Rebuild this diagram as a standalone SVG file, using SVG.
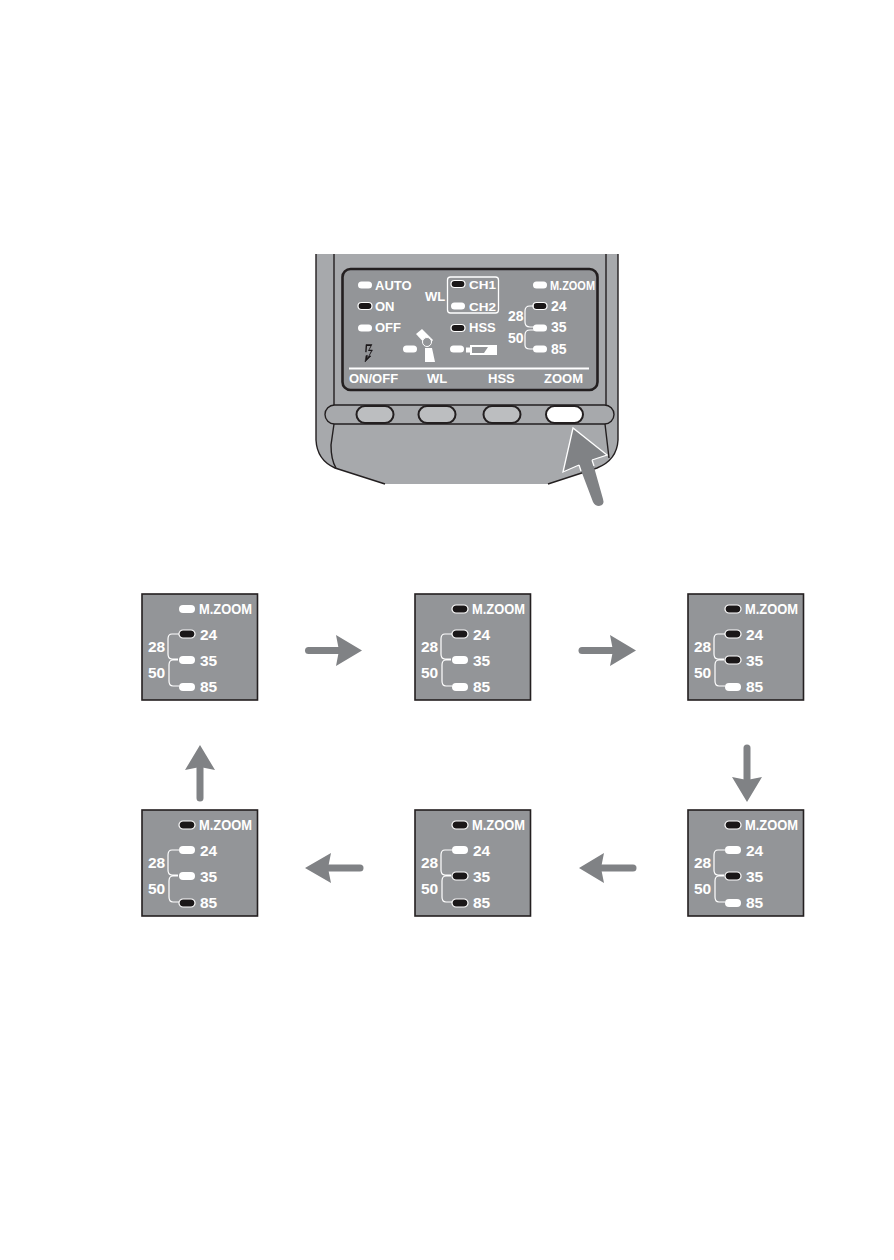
<svg xmlns="http://www.w3.org/2000/svg" width="894" height="1260" viewBox="0 0 894 1260">
<style>
text{font-family:"Liberation Sans",Arial,sans-serif;font-weight:700;fill:#fff}
.l{font-size:13px}.p{font-size:15.500px}.d{font-size:14px}
.on{fill:#1a1718;stroke:#fff;stroke-width:1.2}
.off{fill:#fff;stroke:none}
.br{fill:none;stroke:#fff;stroke-width:1.2}
.ar{fill:#808285}
.as{fill:none;stroke:#808285;stroke-width:7;stroke-linecap:round}
.pn{fill:#939598;stroke:#231f20;stroke-width:1.6}
.k{fill:none;stroke:#231f20;stroke-width:1.4}
.btn{fill:#bcbec0;stroke:#231f20;stroke-width:2}
</style>
<defs>
<rect id="led" x="-8" y="-4" width="16" height="8" rx="4"/>
<rect id="sled" x="-7" y="-3.500" width="14" height="7" rx="3.500"/>
<g id="pbase">
<rect class="pn" x="0" y="0" width="115.500" height="106"/>
<text class="p" x="57" y="20" textLength="53" lengthAdjust="spacingAndGlyphs">M.ZOOM</text>
<text class="p" x="58" y="46">24</text>
<text class="p" x="58" y="72">35</text>
<text class="p" x="58" y="98">85</text>
<text class="p" x="6" y="58">28</text>
<text class="p" x="6" y="84">50</text>
<path class="br" d="M37 40H30Q26 40 26 45V60Q26 65 30 65H36M36 66H31Q27 66 27 71V87Q27 92 31 92H37"/>
</g>
</defs>

<g id="device">
<path d="M316 254H618V440Q617 460 597 468L548 484H385L335 468Q317 460 316 440Z" fill="#a7a9ac"/>
<path class="k" d="M316 254V440Q317 460 335 468L385 484M618 254V440Q617 460 597 468L548 484"/>
<path class="k" d="M334 254V405M334 424L331 445Q331 460 336 468M606 254V405M605 424L609 458"/>
<rect x="342.500" y="269" width="255" height="121" rx="8" fill="#939598" stroke="#231f20" stroke-width="2.600"/>
<rect x="325" y="405" width="289" height="19" rx="9.500" fill="#a7a9ac" stroke="#231f20" stroke-width="1.400"/>
<rect class="btn" x="356.500" y="406" width="37" height="17" rx="8.500"/>
<rect class="btn" x="418.500" y="406" width="37" height="17" rx="8.500"/>
<rect class="btn" x="483.500" y="406" width="37" height="17" rx="8.500"/>
<rect class="btn" x="546" y="406" width="37" height="17" rx="8.500" style="fill:#fff"/>
</g>

<g id="display">
<use href="#sled" class="off" x="365" y="285"/>
<use href="#sled" class="on" x="365" y="306"/>
<use href="#sled" class="off" x="365" y="328"/>
<text class="l" x="375" y="290">AUTO</text>
<text class="l" x="375" y="311">ON</text>
<text class="l" x="375" y="332">OFF</text>
<text class="l" x="425" y="301">WL</text>
<rect x="447.500" y="277" width="51" height="36" rx="3" fill="none" stroke="#fff" stroke-width="1.300"/>
<use href="#sled" class="on" x="458" y="284"/>
<use href="#sled" class="off" x="458" y="306"/>
<text x="469" y="289" style="font-size:10.500px" textLength="27" lengthAdjust="spacingAndGlyphs">CH1</text>
<text x="469" y="311" style="font-size:10.500px" textLength="27" lengthAdjust="spacingAndGlyphs">CH2</text>
<use href="#sled" class="on" x="458" y="328"/>
<text class="l" x="469" y="332">HSS</text>
<use href="#sled" class="off" x="410" y="349"/>
<path fill="#fff" d="M416 334L422 329L433 340L428 347Z"/>
<circle cx="427" cy="342" r="4.500" fill="#939598" stroke="#fff" stroke-width="1"/>
<path fill="#fff" d="M425 348H432L435 362H425Z"/>
<path fill="#1a1718" d="M366 344.500H372L369 350L372.500 350L369 356L371 356L365 362L366 355.500L368 355.500L369.500 352L365.500 352Z" stroke="#1a1718" stroke-width="0.500"/>
<path d="M367 346H370.500L368 351H371L367.500 358L368 353H366.500Z" fill="#939598"/>
<use href="#sled" class="off" x="457" y="349"/>
<path d="M466 347.500H470V345H497V355H470V352.500H466Z" fill="#fff"/>
<path d="M472 347H488L484 353H472Z" fill="#939598"/>
<use href="#sled" class="off" x="540" y="285"/>
<text x="550" y="290" style="font-size:13px" textLength="45" lengthAdjust="spacingAndGlyphs">M.ZOOM</text>
<use href="#sled" class="on" x="540" y="306"/>
<use href="#sled" class="off" x="540" y="328"/>
<use href="#sled" class="off" x="540" y="349"/>
<text class="d" x="551" y="311">24</text>
<text class="d" x="551" y="332">35</text>
<text class="d" x="551" y="354">85</text>
<text class="d" x="508" y="321">28</text>
<text class="d" x="508" y="343">50</text>
<path class="br" d="M534 306H530Q525 306 525 311V322Q525 327 530 327H534M534 330H530Q525 330 525 335V345Q525 349 530 349H534"/>
<path d="M349 368.500H589" stroke="#fff" stroke-width="2"/>
<text class="l" x="349" y="383">ON/OFF</text>
<text class="l" x="427" y="383">WL</text>
<text class="l" x="488" y="383">HSS</text>
<text class="l" x="544" y="383">ZOOM</text>
</g>

<g id="press-arrow">
<path d="M573 428L607 455L592 460L603 499Q605 505 599 506Q595 506 593 502L579 465L563 472Z" fill="#808285"/>
<path d="M592 460L594 466M579 465L581 471M592 460L607 455L573 428L563 472L579 465" fill="none" stroke="#fff" stroke-width="1.300"/>
</g>

<g id="panel-1" transform="translate(142 594)"><use href="#pbase"/><use href="#led" class="off" x="45" y="15"/><use href="#led" class="on" x="45" y="40"/><use href="#led" class="off" x="45" y="66"/><use href="#led" class="off" x="45" y="93"/></g>
<g id="panel-2" transform="translate(415 594)"><use href="#pbase"/><use href="#led" class="on" x="45" y="15"/><use href="#led" class="on" x="45" y="40"/><use href="#led" class="off" x="45" y="66"/><use href="#led" class="off" x="45" y="93"/></g>
<g id="panel-3" transform="translate(688 594)"><use href="#pbase"/><use href="#led" class="on" x="45" y="15"/><use href="#led" class="on" x="45" y="40"/><use href="#led" class="on" x="45" y="66"/><use href="#led" class="off" x="45" y="93"/></g>
<g id="panel-4" transform="translate(688 810)"><use href="#pbase"/><use href="#led" class="on" x="45" y="15"/><use href="#led" class="off" x="45" y="40"/><use href="#led" class="on" x="45" y="66"/><use href="#led" class="off" x="45" y="93"/></g>
<g id="panel-5" transform="translate(415 810)"><use href="#pbase"/><use href="#led" class="on" x="45" y="15"/><use href="#led" class="off" x="45" y="40"/><use href="#led" class="on" x="45" y="66"/><use href="#led" class="on" x="45" y="93"/></g>
<g id="panel-6" transform="translate(142 810)"><use href="#pbase"/><use href="#led" class="on" x="45" y="15"/><use href="#led" class="off" x="45" y="40"/><use href="#led" class="off" x="45" y="66"/><use href="#led" class="on" x="45" y="93"/></g>

<g id="connectors">
<g><path class="as" d="M308.500 650.500H345"/><path class="ar" d="M336 635L362 650.500L336 666L339 650.500Z"/></g>
<g><path class="as" d="M582 650.500H619"/><path class="ar" d="M610 635L636 650.500L610 666L613 650.500Z"/></g>
<g><path class="as" d="M747 748V785"/><path class="ar" d="M732 777L747 802L762 777L747 780Z"/></g>
<g><path class="as" d="M633 868H596"/><path class="ar" d="M604 853L579 868L604 883L601 868Z"/></g>
<g><path class="as" d="M360 868H323"/><path class="ar" d="M331 853L305 868L331 883L328 868Z"/></g>
<g><path class="as" d="M200 798V761"/><path class="ar" d="M185 770L200 745L215 770L200 767Z"/></g>
</g>
</svg>
